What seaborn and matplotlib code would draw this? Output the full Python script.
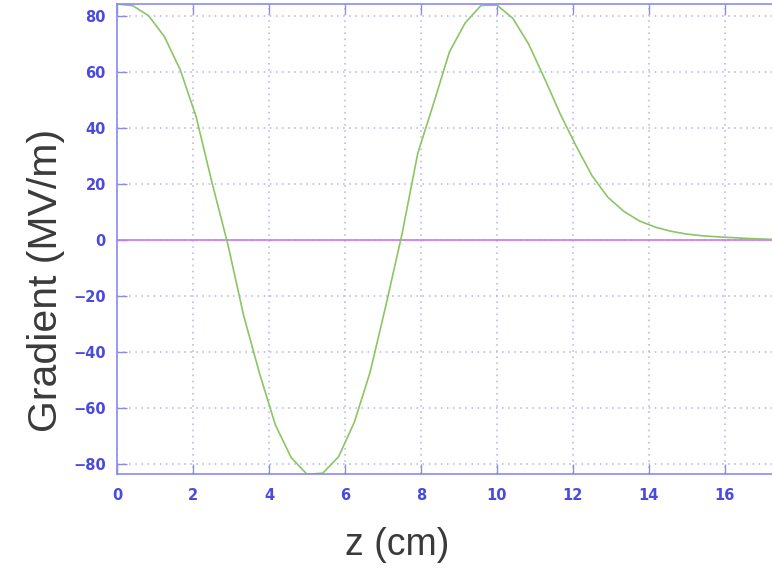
import numpy as np
import pandas as pd
import matplotlib
matplotlib.use("Agg")
import matplotlib.pyplot as plt
import seaborn as sns

# data
z_cm = [i * 0.41667 for i in range(43)]
gradient = [84.3, 83.7, 80.1, 72.6, 60.7, 44.0, 20.5, -1.5, -27.0, -47.6,
            -66.0, -77.7, -83.7, -83.3, -77.4, -65.0, -47.0, -23.0, 2.0, 31.0,
            48.8, 67.2, 77.6, 83.8, 83.9, 79.2, 70.0, 57.8, 45.0, 33.6,
            23.0, 15.3, 10.3, 6.8, 4.6, 3.1, 2.1, 1.5, 1.1, 0.8,
            0.5, 0.3, 0.1]
zero_line = [0.0] * len(z_cm)
x_ticks = [0, 2, 4, 6, 8, 10, 12, 14, 16]
y_ticks = [-80, -60, -40, -20, 0, 20, 40, 60, 80]

df = pd.DataFrame({"z": z_cm, "g": gradient, "zero": zero_line})

sns.set_style("white")
plt.rcParams['font.family'] = ['Liberation Sans', 'DejaVu Sans']

fig = plt.figure(figsize=(7.72, 5.71), dpi=100)
ax = fig.add_axes([117 / 772, 1 - 474 / 571, 1 - 117 / 772 + 0.01, (474 - 4) / 571])

axis_blue = "#8a8af0"
tick_blue = "#4a4ae0"

sns.lineplot(data=df, x="z", y="zero", ax=ax, color="#cc77ee", linewidth=1.2)
sns.lineplot(data=df, x="z", y="g", ax=ax, color="#8cc466", linewidth=1.2)

ax.set_xlim(0, 17.24 * (1 + 0.01 / (1 - 117 / 772)))
ax.set_ylim(-83.6, 84.3)
ax.set_xticks(x_ticks)
ax.set_yticks(y_ticks)
ax.set_xticklabels([str(t) for t in x_ticks])
ax.set_yticklabels([str(t).replace('-', '\u2212') for t in y_ticks])

ax.grid(True, color="#b0b0f2", linestyle=(0, (1, 3)), linewidth=1.1)
for side in ["left", "top", "bottom"]:
    ax.spines[side].set_color(axis_blue)
    ax.spines[side].set_linewidth(1.2)
ax.spines["right"].set_visible(False)

ax.tick_params(axis="both", direction="in", length=7, width=1, color=axis_blue,
               labelcolor=tick_blue, top=True, bottom=True, left=True)
ax.tick_params(axis="x", pad=10)
ax.tick_params(axis="y", pad=8)
for lab in ax.get_xticklabels() + ax.get_yticklabels():
    lab.set_family(['Liberation Sans Narrow', 'DejaVu Sans Condensed', 'DejaVu Sans'])
    lab.set_fontsize(10.5)
    lab.set_fontweight('bold')

ax.set_xlabel("")
ax.set_ylabel("")

fig.text(397 / 772, 1 - 545 / 571, "z (cm)", ha="center", va="center",
         fontsize=27, color="#3a3a3a")
fig.text(46 / 772, 1 - 280 / 571, "Gradient (MV/m)", ha="center", va="center",
         rotation=90, fontsize=29.5, color="#3a3a3a")

fig.savefig("out.png", dpi=100)
